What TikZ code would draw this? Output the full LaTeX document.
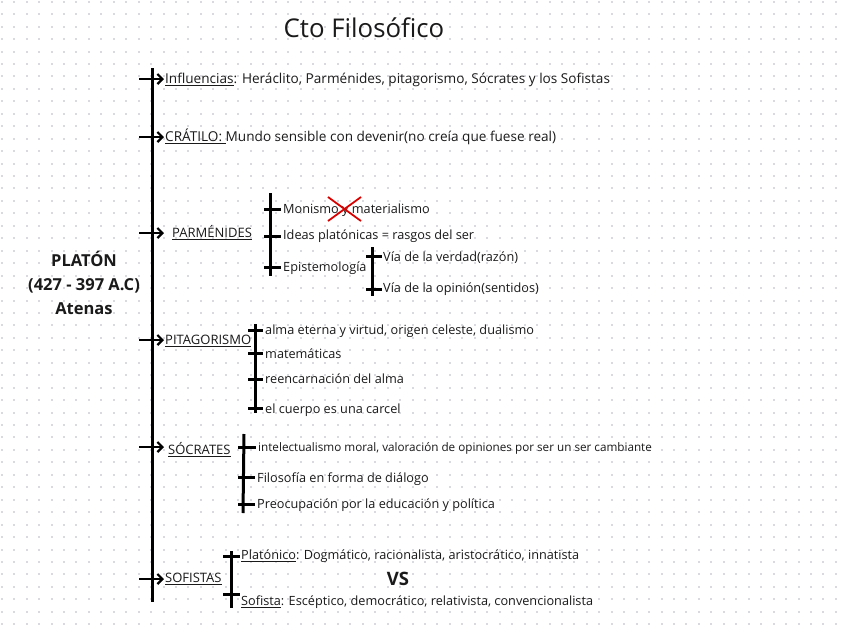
\documentclass[tikz,border=0pt]{standalone}
\usepackage{fontspec}
\setmainfont{Open Sans}
\usetikzlibrary{arrows.meta}
\definecolor{txt}{HTML}{1A1A1A}
\definecolor{dotc}{HTML}{D9D9E0}
\tikzset{
  lbl/.style={anchor=west, inner sep=0pt, text=txt, font=\fontsize{13.6}{15}\selectfont, text height=9.5pt, text depth=3pt, yshift=-1.5pt},
  hd/.style={lbl, font=\fontsize{13}{15}\selectfont},
  sml/.style={lbl, font=\fontsize{12.7}{14}\selectfont},
  tiny/.style={lbl, font=\fontsize{11.7}{13}\selectfont},
  mainline/.style={line width=3pt, black},
  arr/.style={line width=2.2pt, black, -{Straight Barb[length=5pt,width=10pt,line width=2.2pt]}},
  brk/.style={line width=3pt, black},
  tick/.style={line width=3pt, black},
}
\begin{document}
\begin{tikzpicture}[x=1pt,y=-1pt]
\useasboundingbox (0,0) rectangle (844,635);
\fill[white] (0,0) rectangle (844,635);
% dot grid
\foreach \i in {0,...,67}{
  \foreach \j in {0,...,50}{
    \fill[dotc] ({1.7+12.45*\i-1},{1.7+12.45*\j-1}) rectangle +(2,2);
  }
}
% title
\node[inner sep=0pt, text=txt, font=\fontsize{25.8}{28}\selectfont] (title) at (364,28) {Cto Filosófico};
% Platon
\node[inner sep=0pt, text=txt, font=\fontsize{16.5}{24}\bfseries, align=center] (platon) at (84,283) {PLATÓN\\(427 - 397 A.C)\\Atenas};
% main line
\coordinate (mtop) at (152,68);
\coordinate (mbot) at (152,602);
\draw[mainline] (mtop) -- (mbot);
% branch labels
\node[lbl] (infl) at (165,79) {\underline{Influencias}: Heráclito, Parménides, pitagorismo, Sócrates y los Sofistas};
\node[lbl] (crat) at (165,137) {\underline{CRÁTILO: }Mundo sensible con devenir(no creía que fuese real)};
\node[hd] (parm) at (172,233) {\underline{PARMÉNIDES}};
\node[hd] (pita) at (165,340) {\underline{PITAGORISMO}};
\node[hd] (socr) at (168,450) {\underline{SÓCRATES}};
\node[hd] (sofi) at (165,578) {\underline{SOFISTAS}};
% arrow starts
\coordinate (s1) at (139,79);
\coordinate (s2) at (139,137);
\coordinate (s3) at (139,233);
\coordinate (s4) at (139,340);
\coordinate (s5) at (139,447);
\coordinate (s6) at (139,579);
\draw[arr] (s1) -- (164,79);
\draw[arr] (s2) -- (164,137);
\draw[arr] (s3) -- (164,233);
\draw[arr] (s4) -- (164,340);
\draw[arr] (s5) -- (164,447);
\draw[arr] (s6) -- (164,579);
% Parmenides bracket
\coordinate (pt) at (270,193);
\coordinate (pb) at (270,276);
\draw[brk] (pt) -- (pb);
\draw[tick] (264,209) -- (281,209);
\draw[tick] (264,236) -- (281,236);
\draw[tick] (264,267) -- (281,267);
\node[sml] (mon) at (283,209) {Monismo y materialismo};
\node[sml] (ide) at (283,235) {Ideas platónicas = rasgos del ser};
\node[sml] (epi) at (283,267) {Epistemología};
\draw[red!85!black, line width=1.8pt] (328,197) -- (361,221);
\draw[red!85!black, line width=1.8pt] (361,197) -- (328,221);
% Epistemologia bracket
\coordinate (et) at (372,247);
\coordinate (eb) at (372,296);
\draw[brk] (et) -- (eb);
\draw[tick] (366,256) -- (382,256);
\draw[tick] (366,289) -- (382,289);
\node[sml] (ver) at (383,257) {Vía de la verdad(razón)};
\node[sml] (opi) at (383,288) {Vía de la opinión(sentidos)};
% Pitagorismo bracket
\coordinate (gt) at (255,324);
\coordinate (gb) at (255,413);
\draw[brk] (gt) -- (gb);
\draw[tick] (248,330) -- (263,330);
\draw[tick] (248,353) -- (263,353);
\draw[tick] (248,379) -- (263,379);
\draw[tick] (248,408) -- (263,408);
\node[sml] (g1) at (265,330) {alma eterna y virtud, origen celeste, dualismo};
\node[sml] (g2) at (265,354) {matemáticas};
\node[sml] (g3) at (265,379) {reencarnación del alma};
\node[sml] (g4) at (265,409) {el cuerpo es una carcel};
% Socrates bracket
\coordinate (ct) at (244,434);
\coordinate (cb) at (243,513);
\draw[brk] (ct) -- (cb);
\draw[tick] (238,447) -- (256,447);
\draw[tick] (238,477) -- (255,477);
\draw[tick] (238,504) -- (255,504);
\node[tiny] (c1) at (258,447) {intelectualismo moral, valoración de opiniones por ser un ser cambiante};
\node[sml] (c2) at (257,478) {Filosofía en forma de diálogo};
\node[sml] (c3) at (257,504) {Preocupación por la educación y política};
% Sofistas bracket
\coordinate (ft) at (231,551);
\coordinate (fb) at (231,608);
\draw[brk] (ft) -- (fb);
\draw[tick] (223,556) -- (240,556);
\draw[tick] (223,594) -- (240,594);
\node[sml] (f1) at (241,555) {\underline{Platónico}: Dogmático, racionalista, aristocrático, innatista};
\node[sml] (f2) at (241,601) {\underline{Sofista}: Escéptico, democrático, relativista, convencionalista};
\node[inner sep=0pt, text=txt, font=\fontsize{18.5}{20}\bfseries] (vs) at (398,579) {VS};
\end{tikzpicture}
\end{document}
